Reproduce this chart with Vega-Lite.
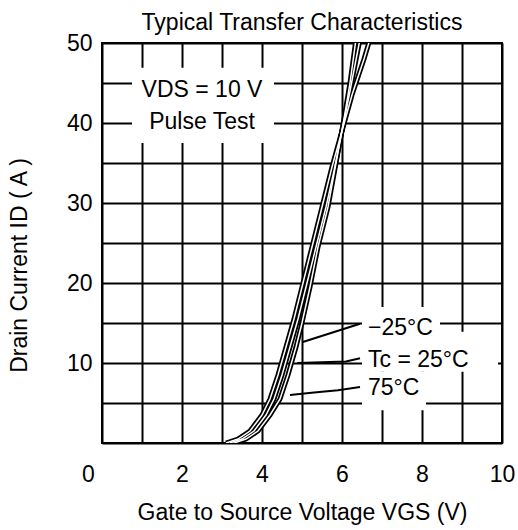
{
  "$schema": "https://vega.github.io/schema/vega-lite/v6.json",
  "width": 400,
  "height": 400,
  "autosize": {"type": "none"},
  "padding": {"left": 102, "top": 43, "right": 16, "bottom": 87},
  "background": "white",
  "title": {"text": "Typical Transfer Characteristics", "font": "Liberation Sans", "fontSize": 23, "fontWeight": "normal", "color": "black", "offset": -3, "anchor": "middle"},
  "config": {
    "view": {"stroke": "black", "strokeWidth": 2},
    "axis": {
      "grid": true, "gridColor": "black", "gridWidth": 2, "gridOpacity": 1,
      "ticks": false, "domain": false,
      "labelFont": "Liberation Sans", "labelFontSize": 23, "labelColor": "black", "labelFlush": false,
      "titleFont": "Liberation Sans", "titleFontSize": 23, "titleFontWeight": "normal", "titleColor": "black"
    }
  },
  "datasets": {
    "curves": [
      {"series": "75°C", "v": 3.1, "i": 0}, {"series": "75°C", "v": 3.4, "i": 0.5}, {"series": "75°C", "v": 3.7, "i": 1.5}, {"series": "75°C", "v": 4.0, "i": 3.5}, {"series": "75°C", "v": 4.2, "i": 5.5}, {"series": "75°C", "v": 4.4, "i": 8.5}, {"series": "75°C", "v": 4.6, "i": 12}, {"series": "75°C", "v": 4.8, "i": 15.5}, {"series": "75°C", "v": 5.0, "i": 19.5}, {"series": "75°C", "v": 5.25, "i": 24.5}, {"series": "75°C", "v": 5.5, "i": 29.5}, {"series": "75°C", "v": 5.75, "i": 34.5}, {"series": "75°C", "v": 6.0, "i": 39}, {"series": "75°C", "v": 6.25, "i": 43.5}, {"series": "75°C", "v": 6.55, "i": 48}, {"series": "75°C", "v": 6.7, "i": 50.5},
      {"series": "25°C", "v": 3.2, "i": 0}, {"series": "25°C", "v": 3.5, "i": 0.5}, {"series": "25°C", "v": 3.8, "i": 1.5}, {"series": "25°C", "v": 4.1, "i": 3.5}, {"series": "25°C", "v": 4.3, "i": 5.5}, {"series": "25°C", "v": 4.5, "i": 8.5}, {"series": "25°C", "v": 4.7, "i": 12}, {"series": "25°C", "v": 4.9, "i": 15.5}, {"series": "25°C", "v": 5.1, "i": 19.5}, {"series": "25°C", "v": 5.35, "i": 24.5}, {"series": "25°C", "v": 5.6, "i": 29.5}, {"series": "25°C", "v": 5.8, "i": 34}, {"series": "25°C", "v": 6.0, "i": 39}, {"series": "25°C", "v": 6.2, "i": 44}, {"series": "25°C", "v": 6.45, "i": 50.5},
      {"series": "-25°C", "v": 3.3, "i": 0}, {"series": "-25°C", "v": 3.6, "i": 0.5}, {"series": "-25°C", "v": 3.9, "i": 1.5}, {"series": "-25°C", "v": 4.2, "i": 3.5}, {"series": "-25°C", "v": 4.45, "i": 5.5}, {"series": "-25°C", "v": 4.65, "i": 8.5}, {"series": "-25°C", "v": 4.85, "i": 12}, {"series": "-25°C", "v": 5.0, "i": 15}, {"series": "-25°C", "v": 5.2, "i": 19.5}, {"series": "-25°C", "v": 5.4, "i": 24.5}, {"series": "-25°C", "v": 5.65, "i": 29.5}, {"series": "-25°C", "v": 5.85, "i": 35}, {"series": "-25°C", "v": 6.05, "i": 40.5}, {"series": "-25°C", "v": 6.2, "i": 45}, {"series": "-25°C", "v": 6.35, "i": 50.5}
    ],
    "leaders": [
      {"leader": "a", "seq": 1, "v": 5.0, "i": 12.6}, {"leader": "a", "seq": 2, "v": 6.45, "i": 14.9},
      {"leader": "b", "seq": 1, "v": 4.88, "i": 10}, {"leader": "b", "seq": 2, "v": 6.1, "i": 10.2}, {"leader": "b", "seq": 3, "v": 6.45, "i": 10.6},
      {"leader": "c", "seq": 1, "v": 4.7, "i": 6}, {"leader": "c", "seq": 2, "v": 5.3, "i": 6.3}, {"leader": "c", "seq": 3, "v": 5.9, "i": 6.6}, {"leader": "c", "seq": 4, "v": 6.45, "i": 7.0}
    ],
    "boxes": [
      {"v": 0.75, "v2": 4.3, "i": 37.5, "i2": 46.9},
      {"v": 6.5, "v2": 8.45, "i": 12.5, "i2": 17},
      {"v": 6.5, "v2": 9.9, "i": 8.9, "i2": 13.9},
      {"v": 6.5, "v2": 8.1, "i": 4.1, "i2": 8.9}
    ],
    "notesCenter": [
      {"text": "VDS = 10 V", "v": 2.5, "i": 44.1},
      {"text": "Pulse Test", "v": 2.5, "i": 40.1}
    ],
    "notesLeft": [
      {"text": "−25°C", "v": 6.65, "i": 14.4},
      {"text": "Tc = 25°C", "v": 6.65, "i": 10.4},
      {"text": "75°C", "v": 6.65, "i": 6.9}
    ]
  },
  "encoding": {
    "x": {
      "field": "v", "type": "quantitative",
      "scale": {"domain": [0, 10], "nice": false},
      "axis": {
        "title": "Gate to Source Voltage VGS (V)",
        "values": [0, 1, 2, 3, 4, 5, 6, 7, 8, 9, 10],
        "labelExpr": "datum.value % 2 === 0 ? datum.label : ''",
        "labelPadding": 20, "titlePadding": 15,
        "labelOffset": {"condition": {"test": "datum.value === 0", "value": -14}, "value": 0}
      }
    },
    "y": {
      "field": "i", "type": "quantitative",
      "scale": {"domain": [0, 50], "nice": false},
      "axis": {
        "title": "Drain Current ID ( A )",
        "values": [0, 5, 10, 15, 20, 25, 30, 35, 40, 45, 50],
        "labelExpr": "datum.value % 10 === 0 && datum.value > 0 ? datum.label : ''",
        "labelPadding": 10, "titlePadding": 35, "titleY": 222
      }
    }
  },
  "layer": [
    {
      "data": {"name": "boxes"},
      "mark": {"type": "rect", "color": "white", "stroke": null},
      "encoding": {"x2": {"field": "v2"}, "y2": {"field": "i2"}}
    },
    {
      "data": {"name": "curves"},
      "mark": {"type": "line", "color": "black", "strokeWidth": 5, "clip": true},
      "encoding": {"detail": {"field": "series"}}
    },
    {
      "data": {"name": "curves"},
      "mark": {"type": "line", "color": "white", "strokeWidth": 1.5, "clip": true},
      "encoding": {"detail": {"field": "series"}}
    },
    {
      "data": {"name": "leaders"},
      "mark": {"type": "line", "color": "black", "strokeWidth": 2},
      "encoding": {"detail": {"field": "leader"}, "order": {"field": "seq"}}
    },
    {
      "data": {"name": "notesCenter"},
      "mark": {"type": "text", "font": "Liberation Sans", "fontSize": 23, "color": "black", "align": "center", "baseline": "middle"},
      "encoding": {"text": {"field": "text"}}
    },
    {
      "data": {"name": "notesLeft"},
      "mark": {"type": "text", "font": "Liberation Sans", "fontSize": 23, "color": "black", "align": "left", "baseline": "middle"},
      "encoding": {"text": {"field": "text"}}
    }
  ]
}
